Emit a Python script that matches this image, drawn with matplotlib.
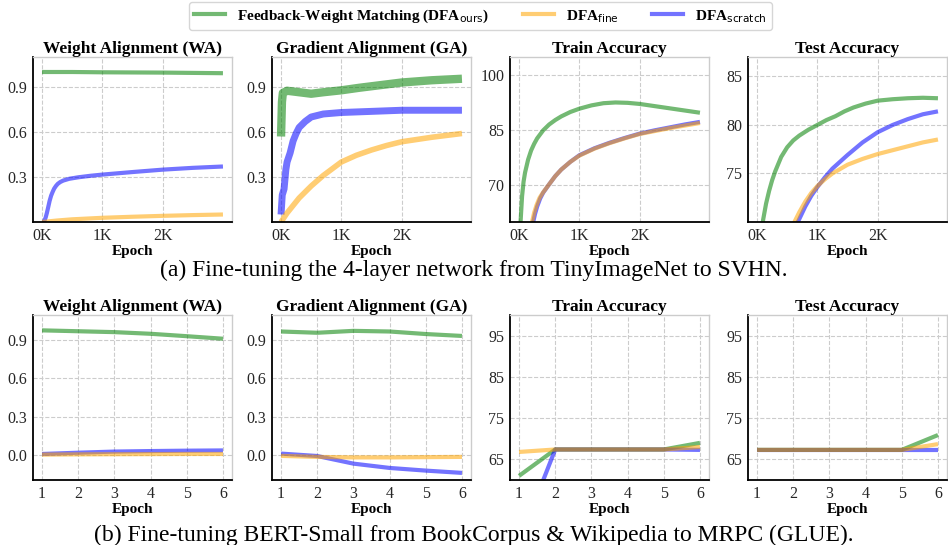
import matplotlib
matplotlib.use("Agg")
import matplotlib.pyplot as plt
from matplotlib.lines import Line2D

plt.rcParams['font.family'] = ['Liberation Serif', 'DejaVu Serif']
plt.rcParams['mathtext.fontset'] = 'dejavusans'

# ---- (a) 4-layer net, TinyImageNet -> SVHN ----
wa_ours_ep = [0, 500, 1000, 1500, 2000, 2500, 3000]
wa_ours = [1.0, 1.0, 0.998, 0.997, 0.996, 0.994, 0.992]
wa_fine_ep = [0, 250, 500, 1000, 1500, 2000, 2500, 3000]
wa_fine = [0.0, 0.01, 0.018, 0.028, 0.035, 0.041, 0.046, 0.05]
wa_scr_ep = [0, 30, 60, 80, 100, 125, 150, 175, 200, 230, 260, 300, 350, 450, 600, 800, 1000,
             1500, 2000, 2500, 3000]
wa_scr = [0.0, 0.0, 0.03, 0.06, 0.095, 0.14, 0.175, 0.2, 0.222, 0.24, 0.254, 0.266, 0.276, 0.288,
          0.298, 0.308, 0.316, 0.333, 0.349, 0.361, 0.37]

ga_ours_ep = [0, 15, 30, 100, 300, 500, 700, 1000, 1300, 1600, 2000, 2500, 3000]
ga_ours = [0.57, 0.80, 0.86, 0.875, 0.865, 0.855, 0.865, 0.878, 0.895, 0.91, 0.93, 0.945, 0.955]
ga_fine_ep = [0, 100, 200, 300, 400, 500, 700, 1000, 1250, 1500, 1750, 2000, 2500, 3000]
ga_fine = [0.0, 0.06, 0.11, 0.16, 0.20, 0.24, 0.31, 0.40, 0.445, 0.48, 0.51, 0.535, 0.565, 0.59]
ga_scr_ep = [0, 20, 50, 80, 100, 150, 200, 250, 300, 400, 500, 700, 1000, 2000, 3000]
ga_scr = [0.05, 0.18, 0.22, 0.35, 0.40, 0.46, 0.54, 0.59, 0.63, 0.67, 0.70, 0.72, 0.73, 0.745, 0.745]

tr_ours_ep = [0, 25, 50, 75, 100, 150, 200, 250, 300, 400, 500, 600, 700, 850, 1000, 1200, 1400,
              1600, 1800, 2000, 2250, 2500, 2750, 3000]
tr_ours = [35, 60, 67, 71, 73.5, 77, 79.5, 81.3, 82.8, 85, 86.6, 87.8, 88.8, 90, 90.9, 91.8, 92.4,
           92.6, 92.5, 92.2, 91.6, 91.0, 90.4, 89.8]
tr_fine_ep = [0, 215, 250, 290, 340, 400, 500, 600, 700, 850, 1000, 1250, 1500, 1750, 2000, 2250,
              2500, 2750, 3000]
tr_fine = [38, 60, 62.5, 64.6, 66.6, 68.1, 70.3, 72.5, 74.3, 76.4, 78.1, 80.0, 81.5, 82.8, 84.0,
           84.8, 85.6, 86.3, 87.0]
tr_scr_ep = [0, 235, 265, 300, 350, 400, 500, 600, 700, 850, 1000, 1250, 1500, 1750, 2000, 2250,
             2500, 2750, 3000]
tr_scr = [40, 60, 62.2, 64.2, 66.4, 68.0, 70.3, 72.5, 74.3, 76.4, 78.2, 80.1, 81.6, 82.9, 84.1,
          85.0, 85.8, 86.6, 87.3]

te_ours_ep = [0, 100, 150, 200, 250, 300, 400, 500, 600, 700, 850, 1000, 1150, 1300, 1450, 1600,
              1800, 2000, 2250, 2500, 2750, 3000]
te_ours = [60, 70.2, 71.9, 73.2, 74.3, 75.2, 76.7, 77.7, 78.4, 78.9, 79.5, 80.0, 80.5, 80.9, 81.4,
           81.8, 82.2, 82.5, 82.65, 82.75, 82.8, 82.75]
te_fine_ep = [0, 550, 620, 700, 800, 900, 1000, 1125, 1250, 1500, 1750, 2000, 2250, 2500, 2750, 3000]
te_fine = [40, 69.0, 70.0, 71.0, 72.1, 73.0, 73.7, 74.4, 75.0, 75.9, 76.5, 77.0, 77.4, 77.8, 78.2, 78.5]
te_scr_ep = [0, 600, 700, 800, 900, 1000, 1125, 1250, 1500, 1750, 2000, 2250, 2500, 2750, 3000]
te_scr = [40, 69.0, 70.3, 71.6, 72.7, 73.6, 74.6, 75.5, 76.9, 78.2, 79.25, 80.0, 80.6, 81.1, 81.4]

# ---- (b) BERT-Small, BookCorpus & Wikipedia -> MRPC ----
epochs_b = [1, 2, 3, 4, 5, 6]
b_wa_ours = [0.979, 0.972, 0.965, 0.952, 0.933, 0.913]
b_wa_fine = [0.0, 0.002, 0.003, 0.004, 0.005, 0.005]
b_wa_scr = [0.005, 0.015, 0.024, 0.028, 0.031, 0.033]
b_ga_ours = [0.97, 0.96, 0.975, 0.97, 0.95, 0.935]
b_ga_fine = [-0.01, -0.018, -0.022, -0.022, -0.02, -0.018]
b_ga_scr = [0.008, -0.011, -0.071, -0.105, -0.126, -0.144]
b_tr_ours = [61.0, 67.4, 67.4, 67.4, 67.4, 69.0]
b_tr_fine = [66.8, 67.4, 67.4, 67.4, 67.4, 68.0]
b_tr_scr = [45.0, 67.4, 67.4, 67.4, 67.4, 67.3]
b_te_ours = [67.3, 67.3, 67.3, 67.3, 67.3, 70.9]
b_te_fine = [67.3, 67.3, 67.3, 67.3, 67.3, 68.7]
b_te_scr = [67.3, 67.3, 67.3, 67.3, 67.3, 67.3]

titles = ['Weight Alignment (WA)', 'Gradient Alignment (GA)', 'Train Accuracy', 'Test Accuracy']
k_ticks = [0, 1000, 2000]
k_labels = ['0K', '1K', '2K']

C_OURS, C_FINE, C_SCR = 'green', 'orange', 'blue'
ALPHA = 0.55
LW = 3.0

W, H = 948, 545
fig = plt.figure(figsize=(W / 100, H / 100), dpi=100)
lefts = [33, 272, 510, 748]


def make_ax(left, top, bottom, width=199):
    ax = fig.add_axes([left / W, (H - bottom) / H, width / W, (bottom - top) / H])
    ax.grid(True, linestyle='--', color='#cccccc', linewidth=0.8)
    ax.set_axisbelow(True)
    for s in ['top', 'right']:
        ax.spines[s].set_color('#cccccc')
        ax.spines[s].set_linewidth(1.0)
    for s in ['left', 'bottom']:
        ax.spines[s].set_color('black')
        ax.spines[s].set_linewidth(1.3)
    ax.tick_params(length=0, labelsize=11.5, colors='#262626', pad=4)
    ax.set_xlabel('Epoch', fontsize=11, fontweight='bold', labelpad=1)
    return ax


top_data = [
    (wa_ours_ep, wa_ours, wa_scr_ep, wa_scr, wa_fine_ep, wa_fine),
    (ga_ours_ep, ga_ours, ga_scr_ep, ga_scr, ga_fine_ep, ga_fine),
    (tr_ours_ep, tr_ours, tr_scr_ep, tr_scr, tr_fine_ep, tr_fine),
    (te_ours_ep, te_ours, te_scr_ep, te_scr, te_fine_ep, te_fine),
]
top_ylims = [(0, 1.1), (0, 1.1), (60, 105), (70, 87)]
top_yticks = [[0.3, 0.6, 0.9], [0.3, 0.6, 0.9], [70, 85, 100], [75, 80, 85]]

for i in range(4):
    ax = make_ax(lefts[i], 57, 222)
    xo, yo, xs, ys, xf, yf = top_data[i]
    # GA curves are noisy in the original; a wider stroke stands in for the jitter
    if i == 1:
        lws = (6.0, 5.0, 4.0)
    else:
        lws = (LW, LW, LW)
    ax.plot(xo, yo, color=C_OURS, alpha=ALPHA, lw=lws[0], solid_capstyle='butt')
    ax.plot(xs, ys, color=C_SCR, alpha=ALPHA, lw=lws[1], solid_capstyle='butt')
    ax.plot(xf, yf, color=C_FINE, alpha=ALPHA, lw=lws[2], solid_capstyle='butt')
    ax.set_xlim(-150, 3150)
    ax.set_ylim(*top_ylims[i])
    ax.set_yticks(top_yticks[i])
    ax.set_xticks(k_ticks)
    ax.set_xticklabels(k_labels)
    ax.set_title(titles[i], fontsize=12.5, fontweight='bold', pad=3)

bottom_data = [
    (b_wa_ours, b_wa_scr, b_wa_fine),
    (b_ga_ours, b_ga_scr, b_ga_fine),
    (b_tr_ours, b_tr_scr, b_tr_fine),
    (b_te_ours, b_te_scr, b_te_fine),
]
bot_ylims = [(-0.2, 1.1), (-0.2, 1.1), (60, 100), (60, 100)]
bot_yticks = [[0.0, 0.3, 0.6, 0.9], [0.0, 0.3, 0.6, 0.9], [65, 75, 85, 95], [65, 75, 85, 95]]

for i in range(4):
    ax = make_ax(lefts[i], 315, 480)
    yo, ys, yf = bottom_data[i]
    ax.plot(epochs_b, yo, color=C_OURS, alpha=ALPHA, lw=LW, solid_capstyle='butt')
    ax.plot(epochs_b, ys, color=C_SCR, alpha=ALPHA, lw=LW, solid_capstyle='butt')
    ax.plot(epochs_b, yf, color=C_FINE, alpha=ALPHA, lw=LW, solid_capstyle='butt')
    ax.set_xlim(0.75, 6.25)
    ax.set_ylim(*bot_ylims[i])
    ax.set_yticks(bot_yticks[i])
    ax.set_yticklabels([f'{t:.1f}' if i < 2 else str(t) for t in bot_yticks[i]])
    ax.set_xticks(epochs_b)
    ax.set_title(titles[i], fontsize=12.5, fontweight='bold', pad=3)

handles = [
    Line2D([], [], color=C_OURS, alpha=ALPHA, lw=LW),
    Line2D([], [], color=C_FINE, alpha=ALPHA, lw=LW),
    Line2D([], [], color=C_SCR, alpha=ALPHA, lw=LW),
]
labels = ['Feedback-Weight Matching (DFA$_{\\mathrm{ours}}$)',
          'DFA$_{\\mathrm{fine}}$', 'DFA$_{\\mathrm{scratch}}$']
fig.legend(handles, labels, loc='upper center', bbox_to_anchor=(0.507, 1.0), ncol=3,
           prop={'weight': 'bold', 'size': 11}, frameon=True, edgecolor='#cccccc',
           fancybox=True, borderpad=0.35, columnspacing=2.2, handlelength=2.0,
           borderaxespad=0.15)

fig.text(0.5, (H - 270) / H, '(a) Fine-tuning the 4-layer network from TinyImageNet to SVHN.',
         ha='center', va='center', fontsize=17)
fig.text(0.5, (H - 535) / H, '(b) Fine-tuning BERT-Small from BookCorpus & Wikipedia to MRPC (GLUE).',
         ha='center', va='center', fontsize=17)

fig.savefig('out.png', dpi=100)
